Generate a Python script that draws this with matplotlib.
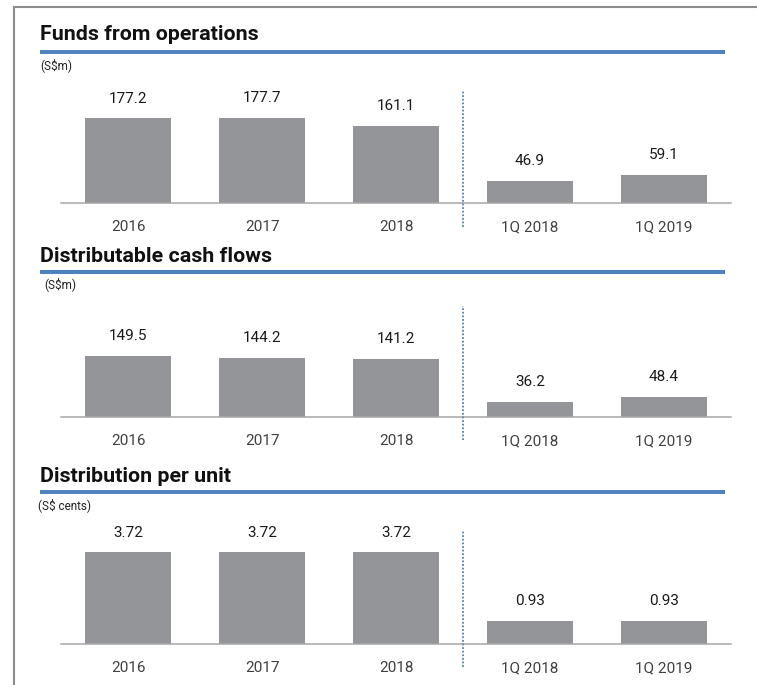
# Three small bar panels: funds from operations, cash flows, DPU
from matplotlib import pyplot as plt
from matplotlib.lines import Line2D

# data
categories = ['2016', '2017', '2018', '1Q 2018', '1Q 2019']
ffo = [177.2, 177.7, 161.1, 46.9, 59.1]
dcf = [149.5, 144.2, 141.2, 36.2, 48.4]
dpu = [3.72, 3.72, 3.72, 0.93, 0.93]
dpu_labels = ['3.72', '3.72', '3.72', '0.93', '0.93']
titles = ['Funds from operations', 'Distributable cash flows', 'Distribution per unit']
units = ['(S$m)', '(S$m)', '(S$ cents)']

W, H = 757, 685
BAR = '#939598'
BLUE = '#4f81bd'

plt.rcParams['font.family'] = ['Roboto', 'DejaVu Sans']


def fx(px):
    """pixel x -> figure fraction"""
    return px / W


def fy(py):
    """pixel y (from top) -> figure fraction"""
    return 1 - py / H


# one panel: heading, blue rule, unit, bars
def draw_panel(fig, values, labels, title, unit, title_y, rule_y, unit_x, unit_y,
               base_y, top_y, ymax):
    fig.text(fx(40), fy(title_y), title, fontsize=15.4, fontweight='bold',
             va='center', ha='left', color='#111111')
    fig.add_artist(Line2D([fx(40), fx(725)], [fy(rule_y), fy(rule_y)],
                          color=BLUE, lw=2.9, solid_capstyle='butt'))
    fig.text(fx(unit_x), fy(unit_y), unit, fontsize=8.5, va='center', ha='left',
             color='#222222')

    ax = fig.add_axes([fx(61), fy(base_y), fx(731) - fx(61), (base_y - top_y) / H])
    x = list(range(len(values)))
    ax.bar(x, values, width=0.64, color=BAR, zorder=2)
    for xi, v, lab in zip(x, values, labels):
        ax.annotate(lab, (xi, v), xytext=(0, 14), textcoords='offset points',
                    ha='center', va='center', fontsize=11, color='#1a1a1a')
    ax.set_xlim(-0.5, 4.5)
    ax.set_ylim(0, ymax)
    ax.set_xticks(x, categories)
    ax.tick_params(axis='x', length=0, pad=12.5, labelsize=11, labelcolor='#404040')
    ax.set_yticks([])
    for s in ['top', 'right', 'left']:
        ax.spines[s].set_visible(False)
    ax.spines['bottom'].set_color('#a6a6a6')
    ax.spines['bottom'].set_linewidth(1.1)
    # dotted divider between years and quarters
    ax.axvline(2.5, ymin=-0.2, ymax=0.95, color=BLUE, lw=1.3, ls=(0, (1, 1)),
               clip_on=False, zorder=3)
    ax.patch.set_visible(False)


def main():
    fig = plt.figure(figsize=(W / 100, H / 100), dpi=100)

    # outer frame (top and left)
    fig.add_artist(Line2D([fx(14), fx(757)], [fy(7), fy(7)], color='#8c8c8c', lw=1.5))
    fig.add_artist(Line2D([fx(14), fx(14)], [fy(7), fy(685)], color='#8c8c8c', lw=1.5))

    draw_panel(fig, ffo, [f'{v:.1f}' for v in ffo], titles[0], units[0],
               35, 52, 40, 65, 203, 85, 118 / 0.4797)
    draw_panel(fig, dcf, [f'{v:.1f}' for v in dcf], titles[1], units[1],
               256, 272, 44, 284, 416.5, 300, 116.5 / 0.408)
    draw_panel(fig, dpu, dpu_labels, titles[2], units[2],
               476, 492, 38, 505, 643.5, 525, 118.5 / 24.55)

    fig.savefig('out.png', dpi=100)


if __name__ == '__main__':
    main()
